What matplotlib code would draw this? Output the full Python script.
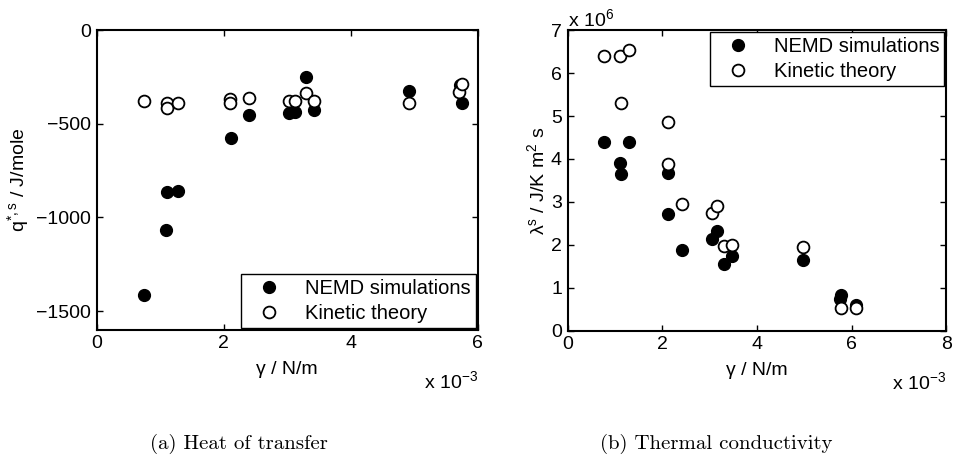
import matplotlib.pyplot as plt

plt.rcParams['font.family'] = ['Liberation Sans', 'DejaVu Sans']
plt.rcParams['mathtext.fontset'] = 'custom'
plt.rcParams['mathtext.rm'] = 'Liberation Sans'
plt.rcParams['mathtext.it'] = 'Liberation Sans'
plt.rcParams['mathtext.default'] = 'regular'

# (a) heat of transfer, gamma in units of 1e-3 N/m
gamma_a_nemd = [0.75, 1.10, 1.11, 1.28, 2.11, 2.40, 3.03, 3.13, 3.29, 3.43, 4.92, 5.72, 5.75]
q_nemd = [-1416, -1068, -866, -858, -577, -455, -445, -438, -249, -427, -326, -295, -391]
gamma_a_kin = [0.75, 1.11, 1.11, 1.28, 2.10, 2.10, 2.40, 3.03, 3.13, 3.29, 3.43, 4.92, 5.71, 5.75]
q_kin = [-379, -391, -418, -391, -368, -391, -361, -379, -379, -335, -377, -390, -329, -288]

# (b) thermal conductivity, lambda in units of 1e6
gamma_b_nemd = [0.765, 1.305, 1.116, 1.13, 2.13, 2.13, 2.42, 3.06, 3.16, 3.31, 3.47, 4.98, 5.78, 5.76, 6.10]
lam_nemd = [4.40, 4.40, 3.91, 3.64, 3.67, 2.72, 1.88, 2.14, 2.33, 1.56, 1.74, 1.64, 0.83, 0.74, 0.60]
gamma_b_kin = [0.765, 1.116, 1.305, 1.13, 2.13, 2.13, 2.42, 3.06, 3.16, 3.31, 3.47, 4.98, 5.78, 6.10]
lam_kin = [6.40, 6.39, 6.53, 5.30, 4.87, 3.88, 2.96, 2.74, 2.90, 1.98, 1.99, 1.95, 0.53, 0.54]

fs = 14
fig = plt.figure(figsize=(9.57, 4.70), dpi=100)
ax1 = fig.add_axes([0.101, 0.298, 0.398, 0.638])
ax2 = fig.add_axes([0.593, 0.296, 0.396, 0.640])

ms = 8.5
for ax, xn, yn, xk, yk in [(ax1, gamma_a_nemd, q_nemd, gamma_a_kin, q_kin),
                           (ax2, gamma_b_nemd, lam_nemd, gamma_b_kin, lam_kin)]:
    ax.plot(xn, yn, 'o', color='black', markersize=ms, label='NEMD simulations')
    ax.plot(xk, yk, 'o', markerfacecolor='white', markeredgecolor='black',
            markeredgewidth=1.3, markersize=ms, label='Kinetic theory')
    ax.tick_params(direction='in', top=True, right=True, length=4, width=1,
                   labelsize=fs, pad=4)
    for s in ax.spines.values():
        s.set_linewidth(1.5)
    ax.set_xlabel('γ / N/m', fontsize=fs, labelpad=6)
    ax.text(1.0, -0.135, 'x 10$^{−3}$', transform=ax.transAxes, ha='right', va='top',
            fontsize=fs)

ax1.set_xlim(0, 6)
ax1.set_ylim(-1600, 0)
ax1.set_xticks([0, 2, 4, 6])
ax1.set_yticks([-1500, -1000, -500, 0])
ax1.set_ylabel('q$^{*,s}$ / J/mole', fontsize=fs)

ax2.set_xlim(0, 8)
ax2.set_ylim(0, 7)
ax2.set_xticks([0, 2, 4, 6, 8])
ax2.set_yticks(range(8))
ax2.set_ylabel('λ$^{s}$ / J/K m$^{2}$ s', fontsize=fs, labelpad=2)
ax2.text(0.0, 1.0, 'x 10$^{6}$', transform=ax2.transAxes, ha='left', va='bottom',
         fontsize=fs)

for ax, loc in [(ax1, 'lower right'), (ax2, 'upper right')]:
    leg = ax.legend(loc=loc, fontsize=14.5, fancybox=False, edgecolor='black',
                    framealpha=1, borderaxespad=0.1, handlelength=2.2,
                    handletextpad=0.7, borderpad=0.25, labelspacing=0.3)
    leg.get_frame().set_linewidth(1)

fig.text(0.25, 0.045, '(a) Heat of transfer', family='cmr10', fontsize=15, ha='center')
fig.text(0.748, 0.045, '(b) Thermal conductivity', family='cmr10', fontsize=15, ha='center')

fig.savefig('out.png', dpi=100)
